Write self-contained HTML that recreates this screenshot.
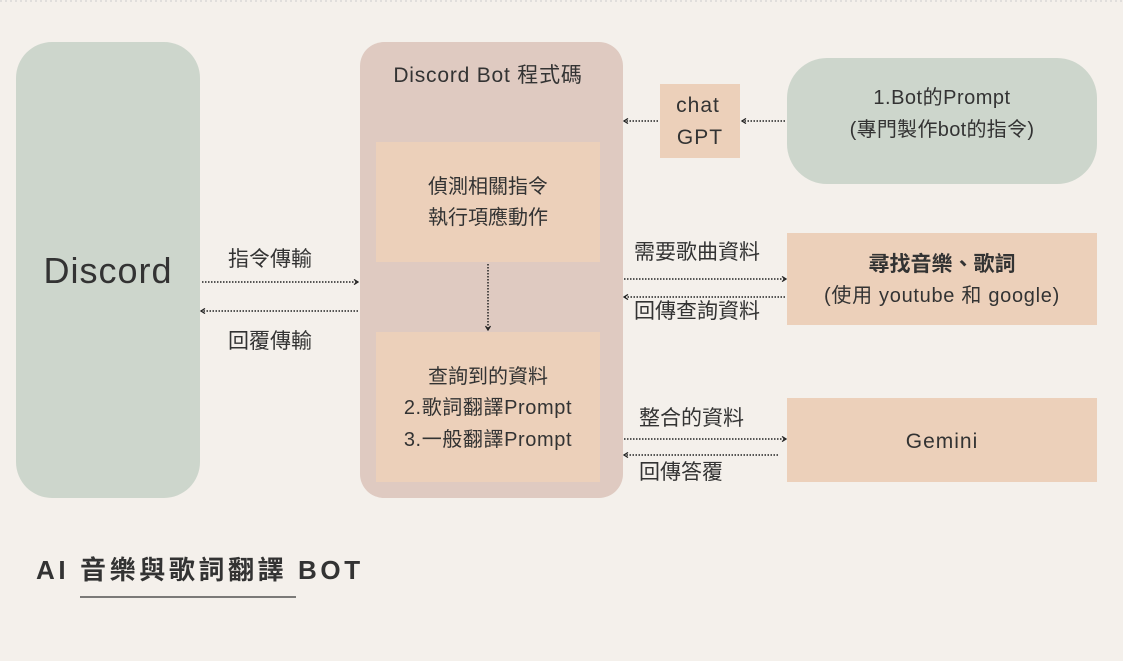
<!DOCTYPE html>
<html><head><meta charset="utf-8"><style>
html,body{margin:0;padding:0;background:#f4f0eb;}
svg{display:block}
text{font-family:"Liberation Sans","Noto Sans CJK TC",sans-serif;fill:#333;}
</style></head><body>
<svg width="1123" height="661" viewBox="0 0 1123 661" xmlns="http://www.w3.org/2000/svg">
<defs>
<marker id="a" markerWidth="6" markerHeight="6" refX="5" refY="3" orient="auto" markerUnits="userSpaceOnUse"><path d="M1,0.5 L5,3 L1,5.5" fill="none" stroke="#222" stroke-width="1.3"/></marker>
</defs>
<rect width="1123" height="661" fill="#f4f0eb"/>
<line x1="0" y1="1" x2="1123" y2="1" stroke="#ccc" stroke-dasharray="2,3"/>
<rect x="16" y="42" width="184" height="456" rx="36" fill="#cdd6cc"/>
<text x="108" y="283" font-size="36" text-anchor="middle" fill="#222" letter-spacing="1">Discord</text>
<rect x="360" y="42" width="263" height="456" rx="24" fill="#dfcac1"/>
<text x="488" y="82" font-size="21" text-anchor="middle" letter-spacing="0.8">Discord Bot 程式碼</text>
<rect x="376" y="142" width="224" height="120" fill="#ecd0ba"/>
<text x="488" y="193" font-size="20" text-anchor="middle">偵測相關指令</text>
<text x="488" y="224" font-size="20" text-anchor="middle">執行項應動作</text>
<rect x="376" y="332" width="224" height="150" fill="#ecd0ba"/>
<text x="488" y="383" font-size="20" text-anchor="middle">查詢到的資料</text>
<text x="488" y="414" font-size="20" text-anchor="middle" letter-spacing="0.6">2.歌詞翻譯Prompt</text>
<text x="488" y="446" font-size="20" text-anchor="middle" letter-spacing="0.6">3.一般翻譯Prompt</text>
<line x1="488" y1="264" x2="488" y2="330" stroke="#222" stroke-width="1.5" stroke-dasharray="1.5,1.5" marker-end="url(#a)"/>
<rect x="660" y="84" width="80" height="74" fill="#ecd0ba"/>
<text x="698" y="112" font-size="21" text-anchor="middle" letter-spacing="1">chat</text>
<text x="700" y="144" font-size="21" text-anchor="middle" letter-spacing="1">GPT</text>
<rect x="787" y="58" width="310" height="126" rx="40" fill="#cdd6cc"/>
<text x="942" y="104" font-size="20" text-anchor="middle" letter-spacing="0.5">1.Bot的Prompt</text>
<text x="942" y="136" font-size="20" text-anchor="middle" letter-spacing="0.3">(專門製作bot的指令)</text>
<rect x="787" y="233" width="310" height="92" fill="#ecd0ba"/>
<text x="942" y="271" font-size="21" text-anchor="middle" fill="#222" font-weight="bold">尋找音樂、歌詞</text>
<text x="942" y="302" font-size="20" text-anchor="middle" fill="#222" letter-spacing="0.7">(使用 youtube 和 google)</text>
<rect x="787" y="398" width="310" height="84" fill="#ecd0ba"/>
<text x="942" y="448" font-size="21" text-anchor="middle" letter-spacing="1">Gemini</text>
<g stroke="#222" stroke-width="1.5" stroke-dasharray="1.5,1.5" fill="none">
<line x1="785" y1="121" x2="742" y2="121" marker-end="url(#a)"/>
<line x1="658" y1="121" x2="624" y2="121" marker-end="url(#a)"/>
<line x1="624" y1="279" x2="786" y2="279" marker-end="url(#a)"/>
<line x1="785" y1="297" x2="624" y2="297" marker-end="url(#a)"/>
<line x1="624" y1="439" x2="786" y2="439" marker-end="url(#a)"/>
<line x1="778" y1="455" x2="624" y2="455" marker-end="url(#a)"/>
<line x1="202" y1="282" x2="358" y2="282" marker-end="url(#a)"/>
<line x1="358" y1="311" x2="201" y2="311" marker-end="url(#a)"/>
</g>
<text x="228" y="266" font-size="21">指令傳輸</text>
<text x="228" y="348" font-size="21">回覆傳輸</text>
<text x="634" y="259" font-size="21">需要歌曲資料</text>
<text x="634" y="318" font-size="21">回傳查詢資料</text>
<text x="639" y="425" font-size="21">整合的資料</text>
<text x="639" y="479" font-size="21">回傳答覆</text>
<text x="36" y="579" font-size="26" font-weight="bold" letter-spacing="3.6" fill="#333">AI 音樂與歌詞翻譯 BOT</text>
<line x1="80" y1="597" x2="296" y2="597" stroke="#333" stroke-width="1.2"/>
</svg>
</body></html>
